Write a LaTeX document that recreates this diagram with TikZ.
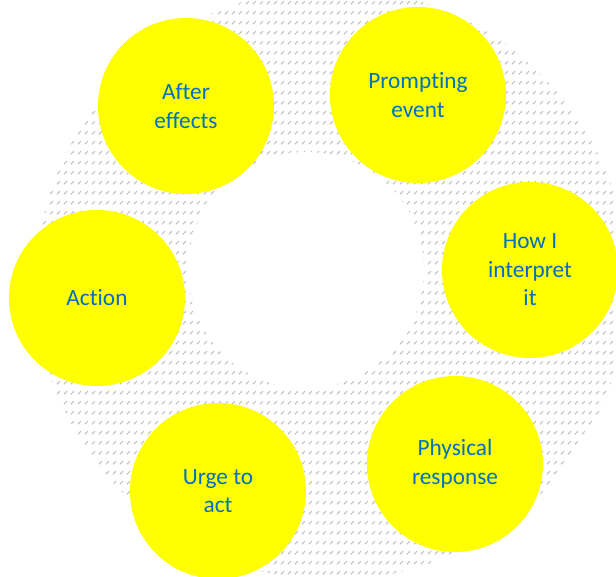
\documentclass[tikz,border=0pt]{standalone}
\usepackage{fontspec}
\setmainfont{Carlito}[Ligatures={NoCommon}]
\usetikzlibrary{patterns}
\pgfdeclarepatternformonly{dashdiag}{\pgfpointorigin}{\pgfpoint{7pt}{10pt}}{\pgfpoint{7pt}{10pt}}{%
  \pgfsetlinewidth{1.1pt}%
  \pgfpathmoveto{\pgfpoint{1pt}{3pt}}%
  \pgfpathlineto{\pgfpoint{4.5pt}{6.5pt}}%
  \pgfusepathqstroke}
\definecolor{txtblue}{HTML}{0070C0}
\definecolor{hatchgray}{HTML}{BEBEBE}
\definecolor{stageyellow}{HTML}{FFFF00}
\begin{document}
\begin{tikzpicture}[x=1pt,y=-1pt,
  stage/.style={circle,fill=stageyellow,minimum size=176pt,inner sep=0pt,align=center,
    text=txtblue,font=\fontsize{23.3}{28.5}\selectfont}]
\useasboundingbox (0,0) rectangle (616,577);
\begin{scope}
  \clip (0,0) rectangle (616,577);
  \fill[pattern=dashdiag,pattern color=hatchgray] (332,284) circle[radius=296pt];
\end{scope}
\fill[white] (306,270) circle[radius=118pt];
\node[stage] (after) at (186,106) {After\\effects};
\node[stage] (prompt) at (418,95) {Prompting\\event};
\node[stage] (interp) at (530,270) {How I\\interpret\\it};
\node[stage] (phys) at (455,464) {Physical\\response};
\node[stage] (urge) at (218,491) {Urge to\\act};
\node[stage] (action) at (97,298) {Action};
\end{tikzpicture}
\end{document}
